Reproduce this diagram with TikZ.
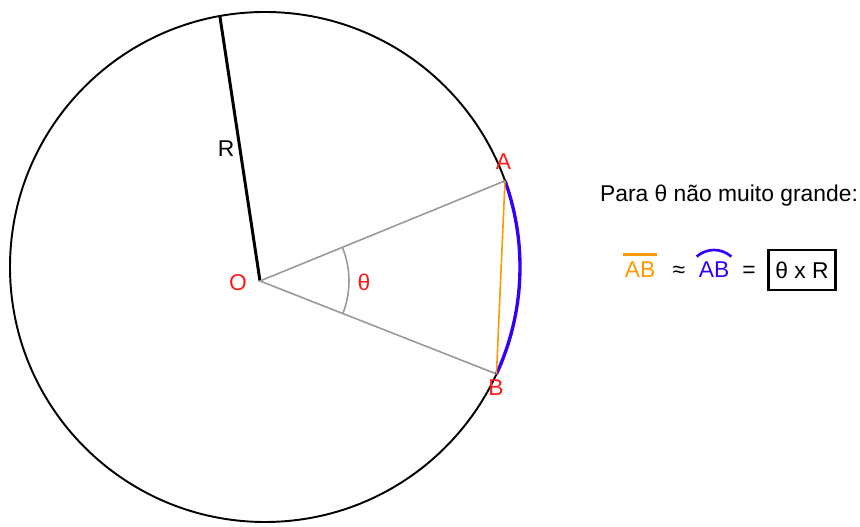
\documentclass[tikz,border=0pt]{standalone}
\usepackage{fontspec}
\setmainfont{Liberation Sans}
\usetikzlibrary{angles, calc}
\definecolor{ptred}{HTML}{FF1A1A}
\definecolor{chordorange}{HTML}{FF9900}
\definecolor{arcblue}{HTML}{3300FF}
\definecolor{raygray}{HTML}{999999}

\begin{document}
\begin{tikzpicture}[font=\fontsize{13}{15}\selectfont,
  lbl/.style={text=ptred, inner sep=0pt}]

\useasboundingbox (0,0) rectangle (17.2,10.54);

% --- Points ---
\coordinate (C) at (5.30,5.20);
\coordinate (O) at (5.20,4.92);
\coordinate (Rend) at ($(C)+(100.2:5.1)$);
\coordinate (A) at ($(C)+(19.75:5.1)$);
\coordinate (B) at ($(C)+(-24.8:5.1)$);

% The circle
\draw[line width=1.1pt] (C) circle (5.1);

% Radius R
\draw[line width=1.7pt] (O) -- (Rend);

% Rays OA, OB and angle theta
\draw[raygray, line width=0.9pt] (A) -- (O) -- (B);
\pic[draw=raygray, line width=0.9pt, angle radius=1.78cm] {angle = B--O--A};

% Chord (orange) and arc (blue)
\draw[arcblue, line width=1.9pt] (A) arc[start angle=19.75, end angle=-24.8, radius=5.1];
\draw[chordorange, line width=0.9pt] (A) -- (B);

% --- Labels ---
\node[lbl] (labA) at (10.07,7.30) {A};
\node[lbl] (labB) at (9.92,2.78) {B};
\node[lbl] (labO) at (4.76,4.88) {O};
\node[lbl] (labT) at (7.28,4.90) {θ};
\node[inner sep=0pt] (labR) at (4.52,7.56) {R};

% --- Right-hand text ---
\node (para) at (14.58,6.62) {Para θ não muito grande:};

\node[text=chordorange, inner sep=1pt] (chord) at (12.80,5.14) {AB};
\draw[chordorange, line width=1.5pt] ([yshift=3pt]chord.north west) -- ([yshift=3pt]chord.north east);
\node (approx) at (13.58,5.10) {≈};
\node[text=arcblue, inner sep=1pt] (arcAB) at (14.28,5.14) {AB};
\draw[arcblue, line width=1.5pt] ([yshift=2pt]arcAB.north west) to[bend left=40] ([yshift=2pt]arcAB.north east);
\node (equal) at (14.98,5.10) {=};
\node[draw, line width=1.2pt, minimum width=1.34cm, minimum height=0.8cm] (result) at (16.04,5.14) {θ x R};

\end{tikzpicture}
\end{document}
